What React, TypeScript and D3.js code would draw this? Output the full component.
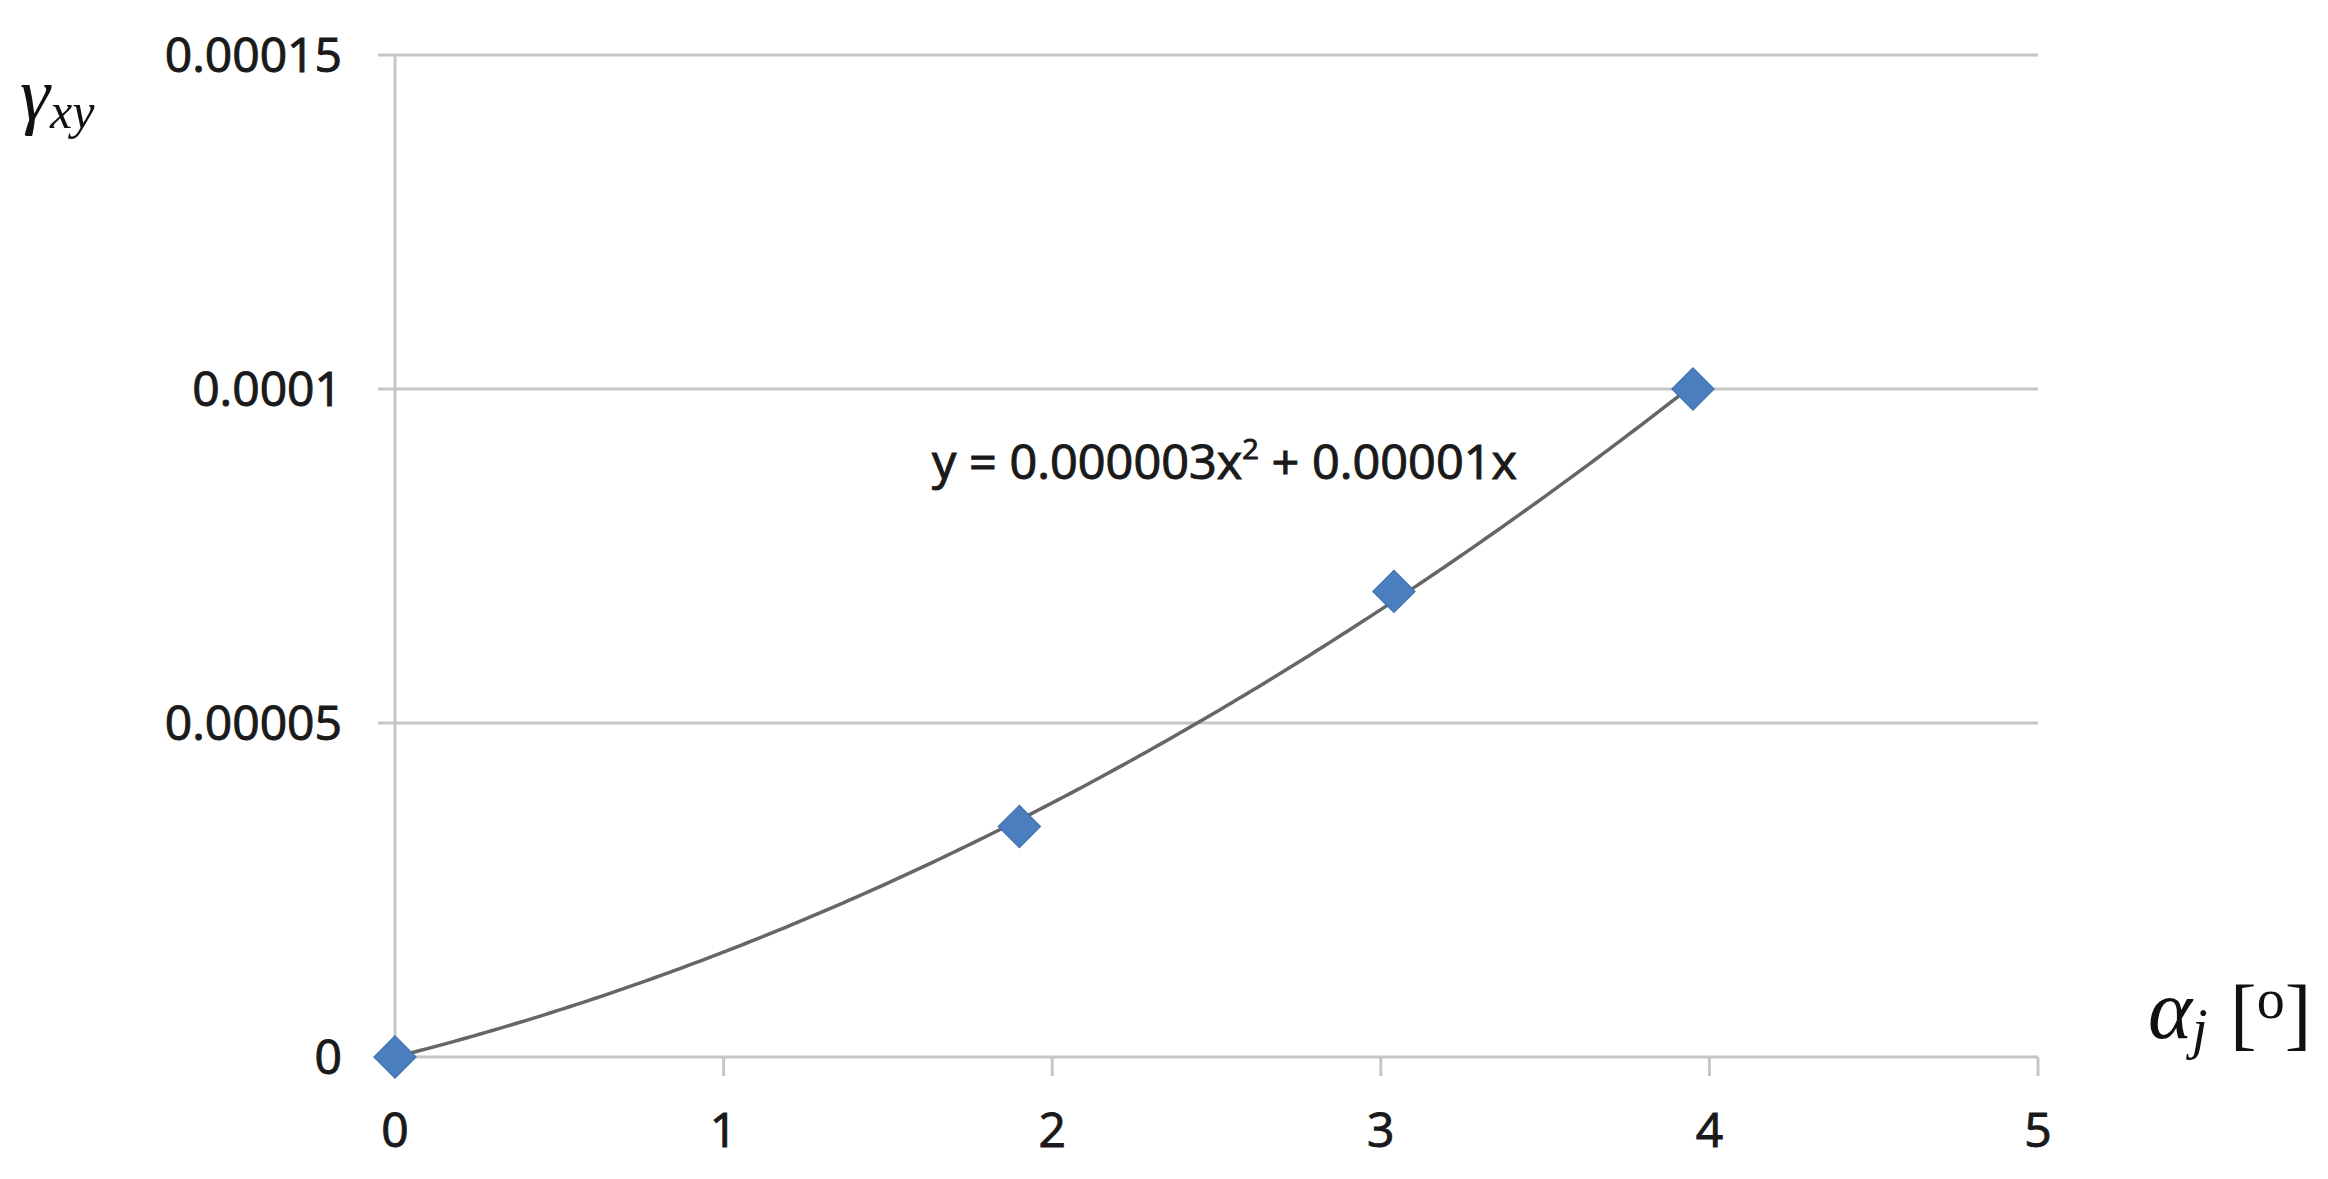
import React from "react";
import * as d3 from "d3";

const xValues = [0, 1.9, 3.04, 3.95];
const yValues = [0, 0.0000345, 0.0000697, 0.0001];
const xTicks = [0, 1, 2, 3, 4, 5];
const yTicks = [0, 0.00005, 0.0001, 0.00015];
const yTickLabels = ["0", "0.00005", "0.0001", "0.00015"];

const W = 2328;
const H = 1179;
const left = 395;
const right = 2038;
const top = 55;
const bottom = 1057;

// least-squares quadratic through the origin (Excel polynomial trendline, intercept 0)
function fitQuadratic(xs: number[], ys: number[]) {
  let s4 = 0, s3 = 0, s2 = 0, s2y = 0, s1y = 0;
  xs.forEach((x, i) => {
    const y = ys[i];
    s4 += x ** 4; s3 += x ** 3; s2 += x ** 2; s2y += x * x * y; s1y += x * y;
  });
  const det = s4 * s2 - s3 * s3;
  const a = (s2y * s2 - s3 * s1y) / det;
  const b = (s4 * s1y - s3 * s2y) / det;
  return { a, b };
}

export default function App() {
  const x = d3.scaleLinear().domain([0, 5]).range([left, right]);
  const y = d3.scaleLinear().domain([0, 0.00015]).range([bottom, top]);
  const { a, b } = fitQuadratic(xValues, yValues);
  const xMax = d3.max(xValues) as number;
  const curvePts = d3.range(0, 201).map((i) => {
    const xv = (xMax * i) / 200;
    return [xv, a * xv * xv + b * xv] as [number, number];
  });
  const line = d3
    .line<[number, number]>()
    .x((d) => x(d[0]))
    .y((d) => y(d[1]));
  const diamond = d3.symbol().type(d3.symbolSquare).size(900)();
  const grid = "#c6c6c6";
  const tickFont = "'Open Sans', 'DejaVu Sans', sans-serif";
  const serif = "'Liberation Serif', 'DejaVu Serif', serif";
  const ink = "#1a1a1a";

  return (
    <svg
      width={W}
      height={H}
      style={{ position: "absolute", left: 0, top: 0, background: "#fff" }}
    >
      <rect width={W} height={H} fill="#fff" />
      {/* gridlines */}
      {yTicks.slice(1).map((t) => (
        <line key={"g" + t} x1={left} x2={right} y1={y(t)} y2={y(t)} stroke={grid} strokeWidth={3} />
      ))}
      {/* y axis */}
      <line x1={left} x2={left} y1={top} y2={bottom} stroke={grid} strokeWidth={3} />
      {yTicks.map((t) => (
        <line key={"yt" + t} x1={left - 17} x2={left} y1={y(t)} y2={y(t)} stroke={grid} strokeWidth={3} />
      ))}
      {/* x axis */}
      <line x1={left} x2={right} y1={bottom} y2={bottom} stroke={grid} strokeWidth={3} />
      {xTicks.map((t) => (
        <line key={"xt" + t} x1={x(t)} x2={x(t)} y1={bottom} y2={bottom + 19} stroke={grid} strokeWidth={3} />
      ))}
      {/* tick labels */}
      {yTicks.map((t, i) => (
        <text
          key={"yl" + t}
          x={342}
          y={y(t)}
          dy="0.36em"
          textAnchor="end"
          fontFamily={tickFont}
          fontSize={48}
          fill={ink}
          stroke={ink}
          strokeWidth={1}
        >
          {yTickLabels[i]}
        </text>
      ))}
      {xTicks.map((t) => (
        <text
          key={"xl" + t}
          x={x(t)}
          y={1130}
          dy="0.36em"
          textAnchor="middle"
          fontFamily={tickFont}
          fontSize={48}
          fill={ink}
          stroke={ink}
          strokeWidth={1}
        >
          {t}
        </text>
      ))}
      {/* trendline */}
      <path d={line(curvePts) || ""} fill="none" stroke="#666" strokeWidth={3.5} />
      {/* markers */}
      {xValues.map((xv, i) => (
        <path
          key={"m" + i}
          d={diamond || ""}
          transform={`translate(${x(xv)},${y(yValues[i])}) rotate(45)`}
          fill="#4a7ebf"
          stroke="#3d6fae"
          strokeWidth={1}
        />
      ))}
      {/* equation */}
      <text
        x={932}
        y={479}
        textLength={585}
        lengthAdjust="spacingAndGlyphs"
        fontFamily={tickFont}
        fontSize={47}
        fill={ink}
        stroke={ink}
        strokeWidth={1}
      >
        y = 0.000003x
        <tspan fontSize={28} dy={-20}>2</tspan>
        <tspan dy={20}> + 0.00001x</tspan>
      </text>
      {/* y axis label */}
      <text x={20} y={120} fontFamily={serif} fontStyle="italic" fontSize={76} fill="#111">
        γ
        <tspan fontSize={50} dy={8}>xy</tspan>
      </text>
      {/* x axis label */}
      <text x={2148} y={1038} fontFamily={serif} fontStyle="italic" fontSize={84} fill="#111">
        α
        <tspan fontSize={56} dy={10}>j</tspan>
      </text>
      <text x={2230} y={1040} fontFamily={serif} fontSize={80} fill="#111">
        [
        <tspan fontSize={56} dy={-22}>o</tspan>
        <tspan dy={22}>]</tspan>
      </text>
    </svg>
  );
}
